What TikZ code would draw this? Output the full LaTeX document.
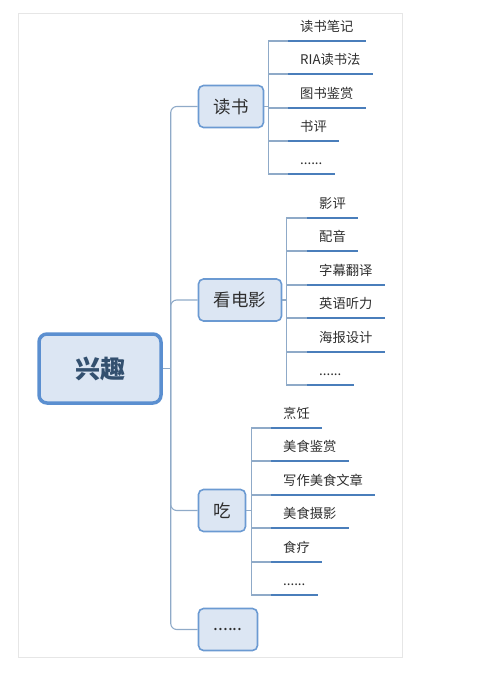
\documentclass[tikz,border=0pt]{standalone}
\usepackage{fontspec}
\setmainfont{Noto Sans CJK SC}
\definecolor{lnk}{HTML}{8FAAC8}
\definecolor{uln}{HTML}{4A7EBB}
\definecolor{nbd}{HTML}{6B9AD2}
\definecolor{rbd}{HTML}{5B8FD0}
\definecolor{nfl}{HTML}{DCE6F3}
\definecolor{rtx}{HTML}{33506F}
\definecolor{txt}{HTML}{2E2E2E}
\definecolor{frm}{HTML}{E6E6E6}
\begin{document}
\begin{tikzpicture}[x=1pt,y=-1pt,
  frame/.style={draw=frm,line width=0.8pt},
  rootbox/.style={draw=rbd,line width=3.5pt,fill=nfl,rounded corners=8pt,
    minimum width=122pt,minimum height=69pt,text=rtx,
    font=\fontsize{25}{30}\selectfont\bfseries},
  lonebox/.style={draw=nbd,line width=1.6pt,fill=nfl,rounded corners=5pt,
    minimum height=42pt,inner xsep=0pt,text=txt,
    font=\fontsize{17.5}{21}\selectfont},
  leaf/.style={anchor=south west,inner xsep=12pt,inner ysep=9pt,text depth=0pt,
    text=txt,font=\fontsize{13.3}{16}\selectfont},
  link/.style={draw=lnk,line width=1.1pt},
  uline/.style={draw=uln,line width=2.4pt}]
\useasboundingbox (0,0) rectangle (500,676);
\draw[frame] (18,13) rectangle (402,657);

\node[rootbox] (root) at (100,368.5) {兴趣};

\node[lonebox,minimum width=65pt] (dushu) at (231,106.5) {读书};
\node[lonebox,minimum width=83pt] (dianying) at (240,300) {看电影};
\node[lonebox,minimum width=47pt] (chi) at (222,510.5) {吃};
\node[lonebox,minimum width=59pt] (more) at (228,629.5) {......};

\coordinate (hub) at ([xshift=8pt]root.east);
\draw[link] (root.east) -- (hub);
\foreach \c in {dushu,dianying,chi,more}
  \draw[link,rounded corners=6pt] (hub) |- (\c.west);

% reading
\node[leaf] (d1) at (288,41) {读书笔记};
\node[leaf] (d2) at (288,74) {RIA读书法};
\node[leaf] (d3) at (288,108) {图书鉴赏};
\node[leaf] (d4) at (288,141) {书评};
\node[leaf] (d5) at (288,174) {......};
% movies
\node[leaf] (m1) at (307,218) {影评};
\node[leaf] (m2) at (307,251) {配音};
\node[leaf] (m3) at (307,285) {字幕翻译};
\node[leaf] (m4) at (307,318) {英语听力};
\node[leaf] (m5) at (307,352) {海报设计};
\node[leaf] (m6) at (307,385) {......};
% food
\node[leaf] (c1) at (271,428) {烹饪};
\node[leaf] (c2) at (271,461) {美食鉴赏};
\node[leaf] (c3) at (271,495) {写作美食文章};
\node[leaf] (c4) at (271,528) {美食摄影};
\node[leaf] (c5) at (271,562) {食疗};
\node[leaf] (c6) at (271,595) {......};

\foreach \l in {d1,d2,d3,d4,d5}
  \draw[link] (dushu.east) -- ++(4,0) |- (\l.south west);
\foreach \l in {m1,m2,m3,m4,m5,m6}
  \draw[link] (dianying.east) -- ++(4,0) |- (\l.south west);
\foreach \l in {c1,c2,c3,c4,c5,c6}
  \draw[link] (chi.east) -- ++(5,0) |- (\l.south west);

\foreach \l in {d1,d2,d3,d4,d5,m1,m2,m3,m4,m5,m6,c1,c2,c3,c4,c5,c6}
  \draw[uline] (\l.south west) -- (\l.south east);
\end{tikzpicture}
\end{document}
